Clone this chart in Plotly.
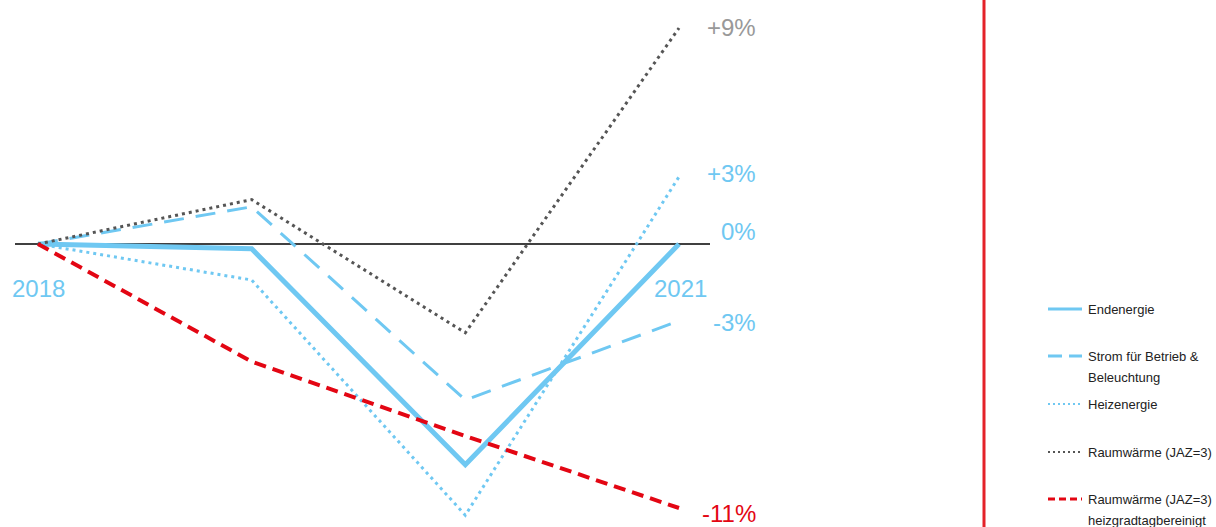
import plotly.graph_objects as go

W, H = 1216, 527

years = [2018, 2019, 2020, 2021]
endenergie = [0, -0.2, -9.2, 0]
strom = [0, 1.55, -6.5, -3.2]
heizenergie = [0, -1.5, -11.3, 2.8]
raumwaerme = [0, 1.85, -3.7, 9.0]
raumwaerme_hgt = [0, -4.9, -8.0, -11.0]

series_names = ["Endenergie", "Strom für Betrieb &<br>Beleuchtung", "Heizenergie",
                "Raumwärme (JAZ=3)", "Raumwärme (JAZ=3)<br>heizgradtagbereinigt"]
end_labels = ["+9%", "+3%", "0%", "-3%", "-11%"]

BLUE = "#6fc8f2"
RED = "#e30613"
GRAY = "#555555"
FONT = "Liberation Sans, Arial"

fig = go.Figure()
styles = [
    (endenergie, BLUE, 5, "solid"),
    (strom, BLUE, 3, "20px,12px"),
    (heizenergie, BLUE, 3, "3px,4px"),
    (raumwaerme, GRAY, 3, "3px,4px"),
    (raumwaerme_hgt, RED, 4, "12px,7px"),
]
for vals, col, w, dash in styles:
    fig.add_trace(go.Scatter(x=years, y=vals, mode="lines",
                             line=dict(color=col, width=w, dash=dash),
                             showlegend=False, hoverinfo="skip"))

# axis mapping: 2018 at px 38, 2021 at px 679; 0% at px 244, 24 px per %
ppy = (679 - 38) / 3
x0 = 2018 - 38 / ppy
x1 = 2018 + (W - 38) / ppy
y_top = 244 / 24
y_bot = -(H - 244) / 24

def py(p):
    return 1 - p / H

shapes = []
# zero line
shapes.append(dict(type="line", xref="paper", yref="y", x0=15 / W, x1=710 / W,
                   y0=0, y1=0, line=dict(color="black", width=1.5), layer="below"))
# red vertical divider
shapes.append(dict(type="line", xref="paper", yref="paper", x0=984 / W, x1=984 / W,
                   y0=0, y1=1, line=dict(color="#e42229", width=3)))

annotations = []
label_colors = ["#999999", BLUE, BLUE, BLUE, RED]
label_px = [27, 173, 232, 322, 513]
for txt, p, c in zip(end_labels, label_px, label_colors):
    annotations.append(dict(x=758 / W, xref="paper", y=py(p), yref="paper", text=txt,
                            xanchor="right", yanchor="middle", showarrow=False,
                            font=dict(family=FONT, size=24, color=c)))
annotations.append(dict(x=years[0], xref="x", y=py(288), yref="paper", text=str(years[0]),
                        showarrow=False, xanchor="center", yanchor="middle",
                        font=dict(family=FONT, size=24, color=BLUE)))
annotations.append(dict(x=709 / W, xref="paper", y=py(288), yref="paper", text=str(years[-1]),
                        showarrow=False, xanchor="right", yanchor="middle",
                        font=dict(family=FONT, size=24, color=BLUE)))

# manual legend
legend_rows = [309, 356, 404, 452, 499]
legend_dash = ["solid", "14px,7px", "2px,3px", "2px,3px", "7px,4px"]
legend_width = [3, 3, 2, 2, 3]
for (vals, col, w, dash), name, yy, ld, lw in zip(styles, series_names, legend_rows,
                                                   legend_dash, legend_width):
    shapes.append(dict(type="line", xref="paper", yref="paper",
                       x0=1048 / W, x1=1082 / W, y0=py(yy), y1=py(yy),
                       line=dict(color=col, width=lw, dash=ld)))
    for i, part in enumerate(name.split("<br>")):
        annotations.append(dict(x=1086 / W, xref="paper", y=py(yy + 21 * i), yref="paper",
                                text=part, showarrow=False, xanchor="left", yanchor="middle",
                                align="left",
                                font=dict(family=FONT, size=13, color="#222222")))

fig.update_layout(
    width=W, height=H,
    margin=dict(l=0, r=0, t=0, b=0),
    paper_bgcolor="white", plot_bgcolor="white",
    xaxis=dict(range=[x0, x1], visible=False, fixedrange=True),
    yaxis=dict(range=[y_bot, y_top], visible=False, fixedrange=True),
    shapes=shapes, annotations=annotations,
    showlegend=False,
)

fig.write_html("out.html", config={"displayModeBar": False},
               post_script="document.body.style.margin='0px';document.body.style.overflow='hidden';")
